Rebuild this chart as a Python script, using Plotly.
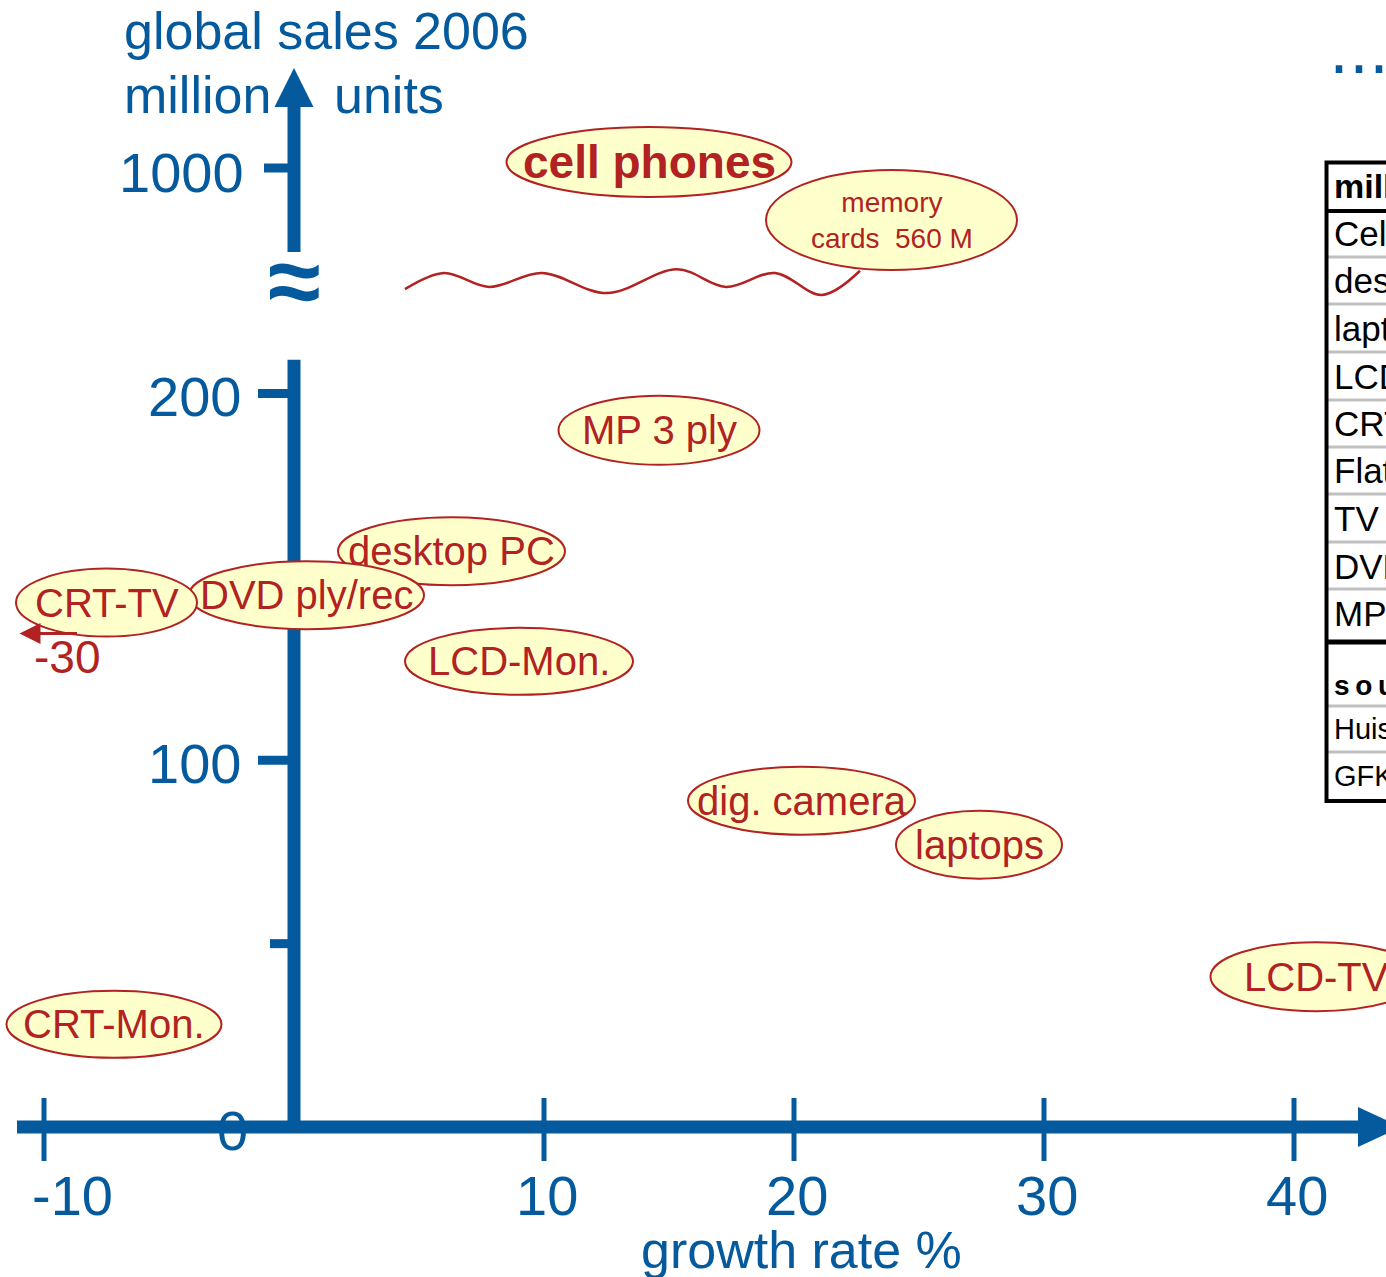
import plotly.graph_objects as go

W, H = 1386, 1277
BLUE = "#045A9C"
RED = "#B22222"
FILL = "#FFFFCC"
FONT = "Liberation Sans, Arial, sans-serif"

# ---- data -------------------------------------------------------------
# lower segment of the broken sales axis (million units, 0..200)
products = ["MP 3 ply", "desktop PC", "DVD ply/rec", "CRT-TV", "LCD-Mon.",
            "dig. camera", "laptops", "LCD-TV", "CRT-Mon."]
growth = [14.6, 6.3, 0.5, -30, 9.0, 20.3, 27.4, 40.9, -7.2]
sales = [190, 157, 145, 143, 127, 89, 77, 41, 28]

# upper segment of the broken sales axis
upper_products = ["cell phones", "memory cards"]
upper_growth = [14.2, 23.9]
upper_sales = [1050, 560]

x_ticks = [-10, 10, 20, 30, 40]
x_tick_labels = ["-10", "10", "20", "30", "40"]
y_ticks = [0, 50, 100, 200]
y_tick_labels = ["0", "", "100", "200"]
y_upper_ticks = [1000]
y_upper_tick_labels = ["1000"]

# wavy line marking the gap between the two axis segments
break_wave_x = [4.44, 6.0, 7.8, 9.92, 12.52, 15.32, 17.28, 19.24, 21.12, 22.64]
break_wave_y = [228.5, 232.9, 229.1, 232.9, 227.4, 233.9, 229.1, 232.9, 226.9, 233.5]

table_header = "million units"
table_rows = ["Cell phones", "desktop PC", "laptops", "LCD-Monitors",
              "CRT-Monitors", "Flat TV", "TV", "DVD", "MP3"]
source_header = "source"
sources = ["Huisman", "GFK"]

# ---- styling ----------------------------------------------------------
X_RANGE = [-294 / 25, (W - 294) / 25]
Y_RANGE = [-(H - 1127) / 3.667, 1127 / 3.667]
K2 = 52 / 440  # px per unit on the upper segment
Y2_RANGE = [1000 - (H - 168) / K2, 1000 + 168 / K2]
GROWTH_CLIP = -7.5          # left edge where off-scale bubbles are parked
X_AXIS_START, X_AXIS_END = -11.08, 42.6
Y_LOWER_TOP = 209.2

bubble_size = {
    "cell phones": (285, 70), "memory cards": (251, 100),
    "MP 3 ply": (201, 69), "desktop PC": (227, 68), "DVD ply/rec": (235, 68),
    "CRT-TV": (181, 68), "LCD-Mon.": (228, 67), "dig. camera": (227, 68),
    "laptops": (166, 68), "LCD-TV": (212, 69), "CRT-Mon.": (215, 67),
}


def px_x(p):
    return p / W


def px_y(p):
    return 1 - p / H


shapes = []
annotations = []


def ellipse(x, y, w, h, yref="y"):
    return dict(type="circle", xref="x", yref=yref, xsizemode="pixel",
                ysizemode="pixel", xanchor=x, yanchor=y, x0=-w / 2, x1=w / 2,
                y0=-h / 2, y1=h / 2, fillcolor=FILL,
                line=dict(color=RED, width=2), layer="above")


# ---- axes -------------------------------------------------------------
axis_line = dict(color=BLUE, width=13)
shapes.append(dict(type="line", xref="x", yref="y", x0=X_AXIS_START,
                   x1=X_AXIS_END, y0=0, y1=0, line=axis_line, layer="above"))
shapes.append(dict(type="path", xref="x", yref="y", xsizemode="pixel",
                   ysizemode="pixel", xanchor=X_AXIS_END, yanchor=0,
                   path="M -1,20 L 42,0 L -1,-20 Z", fillcolor=BLUE,
                   line=dict(width=0), layer="above"))
for t in x_ticks:
    shapes.append(dict(type="line", xref="x", yref="y", x0=t, x1=t,
                       ysizemode="pixel", yanchor=0, y0=-34, y1=29,
                       line=dict(color=BLUE, width=5), layer="above"))
for t, lab in zip(x_ticks, x_tick_labels):
    annotations.append(dict(x=t, y=0, xref="x", yref="y", text=lab,
                            showarrow=False, xanchor="center", yanchor="middle",
                            xshift=28 if t < 0 else 3, yshift=-68,
                            font=dict(size=56, color=BLUE, family=FONT)))

# lower vertical segment
shapes.append(dict(type="line", xref="x", yref="y", x0=0, x1=0, y0=0,
                   y1=Y_LOWER_TOP, line=axis_line, layer="above"))
for t, lab in zip(y_ticks, y_tick_labels):
    if t != 0:
        length = 36 if lab else 24
        shapes.append(dict(type="line", xref="x", yref="y", xsizemode="pixel",
                           xanchor=0, x0=-length, x1=0, y0=t, y1=t,
                           line=dict(color=BLUE, width=9), layer="above"))
    if lab:
        annotations.append(dict(x=0, y=t, xref="x", yref="y", text=lab,
                                showarrow=False, xanchor="right",
                                yanchor="middle",
                                xshift=-44 if t == 0 else -51, yshift=-3,
                                font=dict(size=56, color=BLUE, family=FONT)))

# upper vertical segment with arrow
shapes.append(dict(type="line", xref="x", yref="y2", x0=0, x1=0,
                   ysizemode="pixel", yanchor=1000, y0=-84, y1=62,
                   line=axis_line, layer="above"))
shapes.append(dict(type="path", xref="x", yref="y2", xsizemode="pixel",
                   ysizemode="pixel", xanchor=0, yanchor=1000,
                   path="M -19.5,61 L 0,100 L 19.5,61 Z", fillcolor=BLUE,
                   line=dict(width=0), layer="above"))
for t, lab in zip(y_upper_ticks, y_upper_tick_labels):
    shapes.append(dict(type="line", xref="x", yref="y2", xsizemode="pixel",
                       xanchor=0, x0=-30, x1=0, y0=t, y1=t,
                       line=dict(color=BLUE, width=9), layer="above"))
    annotations.append(dict(x=0, y=t, xref="x", yref="y2", text=lab,
                            showarrow=False, xanchor="right", yanchor="middle",
                            xshift=-48, yshift=-4,
                            font=dict(size=56, color=BLUE, family=FONT)))
# break symbol
annotations.append(dict(x=0, y=1000, xref="x", yref="y2", text="<b>≈</b>",
                        showarrow=False, xanchor="center", yanchor="middle",
                        yshift=-112,
                        font=dict(size=96, color=BLUE, family=FONT)))

# axis titles
annotations.append(dict(x=px_x(122), y=px_y(31), xref="paper", yref="paper",
                        text="global sales 2006", showarrow=False,
                        xanchor="left", yanchor="middle",
                        font=dict(size=52, color=BLUE, family=FONT)))
annotations.append(dict(x=px_x(122), y=px_y(95), xref="paper", yref="paper",
                        text="million", showarrow=False, xanchor="left",
                        yanchor="middle",
                        font=dict(size=52, color=BLUE, family=FONT)))
annotations.append(dict(x=px_x(332), y=px_y(95), xref="paper", yref="paper",
                        text="units", showarrow=False, xanchor="left",
                        yanchor="middle",
                        font=dict(size=52, color=BLUE, family=FONT)))
annotations.append(dict(x=px_x(801), y=px_y(1250), xref="paper", yref="paper",
                        text="growth rate %", showarrow=False,
                        xanchor="center", yanchor="middle",
                        font=dict(size=52, color=BLUE, family=FONT)))
annotations.append(dict(x=px_x(1327), y=px_y(52), xref="paper", yref="paper",
                        text="...", showarrow=False, xanchor="left",
                        yanchor="middle",
                        font=dict(size=63, color=BLUE, family="DejaVu Sans")))

# ---- bubbles ------------------------------------------------------------
for name, g, s in zip(products, growth, sales):
    gx = max(g, GROWTH_CLIP)
    w, h = bubble_size[name]
    shapes.append(ellipse(gx, s, w, h))
    annotations.append(dict(x=gx, y=s, xref="x", yref="y", text=name,
                            showarrow=False, xanchor="center",
                            yanchor="middle",
                            font=dict(size=40, color=RED, family=FONT)))
    if g < GROWTH_CLIP:
        # off-scale value: arrow pointing left plus the real growth rate
        annotations.append(dict(x=gx, y=s, xref="x", yref="y", text="",
                                showarrow=True, ax=59, ay=0, xshift=-87,
                                yshift=-31, arrowhead=2, arrowsize=1.4,
                                arrowwidth=3, arrowcolor=RED))
        annotations.append(dict(x=gx, y=s, xref="x", yref="y",
                                text=f"{g:g}", showarrow=False,
                                xanchor="center", yanchor="middle",
                                xshift=-40, yshift=-54,
                                font=dict(size=46, color=RED, family=FONT)))

for name, g, s in zip(upper_products, upper_growth, upper_sales):
    w, h = bubble_size[name]
    shapes.append(ellipse(g, s, w, h, yref="y2"))
    if name == "cell phones":
        text, size = f"<b>{name}</b>", 46
    else:
        first, second = name.split(" ")
        text, size = f"{first}<br>{second}\u00a0 {s} M", 28
    annotations.append(dict(x=g, y=s, xref="x", yref="y2", text=text,
                            showarrow=False, xanchor="center",
                            yanchor="middle",
                            font=dict(size=size, color=RED, family=FONT)))

# ---- side table -----------------------------------------------------------
T_LEFT, T_TOP, T_HEAD, T_SPLIT, T_BOTTOM = 1326.5, 162.5, 211, 642, 801
row_centers = [233, 280, 328, 377, 424, 471, 518, 566, 613]
source_centers = [685, 729, 776]
gray_lines = [257, 304, 352, 400, 447, 494, 542, 589, 706, 752]

for yl in gray_lines:
    shapes.append(dict(type="line", xref="paper", yref="paper",
                       x0=px_x(T_LEFT), x1=1.2, y0=px_y(yl), y1=px_y(yl),
                       line=dict(color="#C0C0C0", width=3), layer="above"))
shapes.append(dict(type="rect", xref="paper", yref="paper",
                   x0=px_x(T_LEFT), x1=1.2, y0=px_y(T_BOTTOM), y1=px_y(T_TOP),
                   line=dict(color="black", width=4), layer="above"))
for yl, lw in [(T_HEAD, 4), (T_SPLIT, 5)]:
    shapes.append(dict(type="line", xref="paper", yref="paper",
                       x0=px_x(T_LEFT), x1=1.2, y0=px_y(yl), y1=px_y(yl),
                       line=dict(color="black", width=lw), layer="above"))

annotations.append(dict(x=px_x(1332), y=px_y(186), xref="paper", yref="paper",
                        text=f"<b>{table_header}</b>", showarrow=False,
                        xanchor="left", yanchor="middle",
                        font=dict(size=34, color="black", family=FONT)))
for row, yc in zip(table_rows, row_centers):
    annotations.append(dict(x=px_x(1332), y=px_y(yc), xref="paper",
                            yref="paper", text=row, showarrow=False,
                            xanchor="left", yanchor="middle",
                            font=dict(size=35, color="black", family=FONT)))
annotations.append(dict(x=px_x(1332), y=px_y(source_centers[0]), xref="paper",
                        yref="paper",
                        text="<b>" + "\u2009".join(source_header) + "</b>",
                        showarrow=False, xanchor="left", yanchor="middle",
                        font=dict(size=28, color="black", family=FONT)))
for src, yc in zip(sources, source_centers[1:]):
    annotations.append(dict(x=px_x(1332), y=px_y(yc), xref="paper",
                            yref="paper", text=src, showarrow=False,
                            xanchor="left", yanchor="middle",
                            font=dict(size=29, color="black", family=FONT)))

# ---- figure -----------------------------------------------------------------
fig = go.Figure()
fig.add_trace(go.Scatter(x=break_wave_x, y=break_wave_y, mode="lines",
                         line=dict(color=RED, width=2.5, shape="spline"),
                         hoverinfo="skip", showlegend=False))

fig.update_layout(
    width=W, height=H, margin=dict(l=0, r=0, t=0, b=0),
    paper_bgcolor="white", plot_bgcolor="white", showlegend=False,
    xaxis=dict(range=X_RANGE, visible=False, fixedrange=True),
    yaxis=dict(range=Y_RANGE, visible=False, fixedrange=True),
    yaxis2=dict(range=Y2_RANGE, visible=False, overlaying="y",
                fixedrange=True),
    shapes=shapes, annotations=annotations,
)

fig.write_html("out.html", config={"displayModeBar": False})
